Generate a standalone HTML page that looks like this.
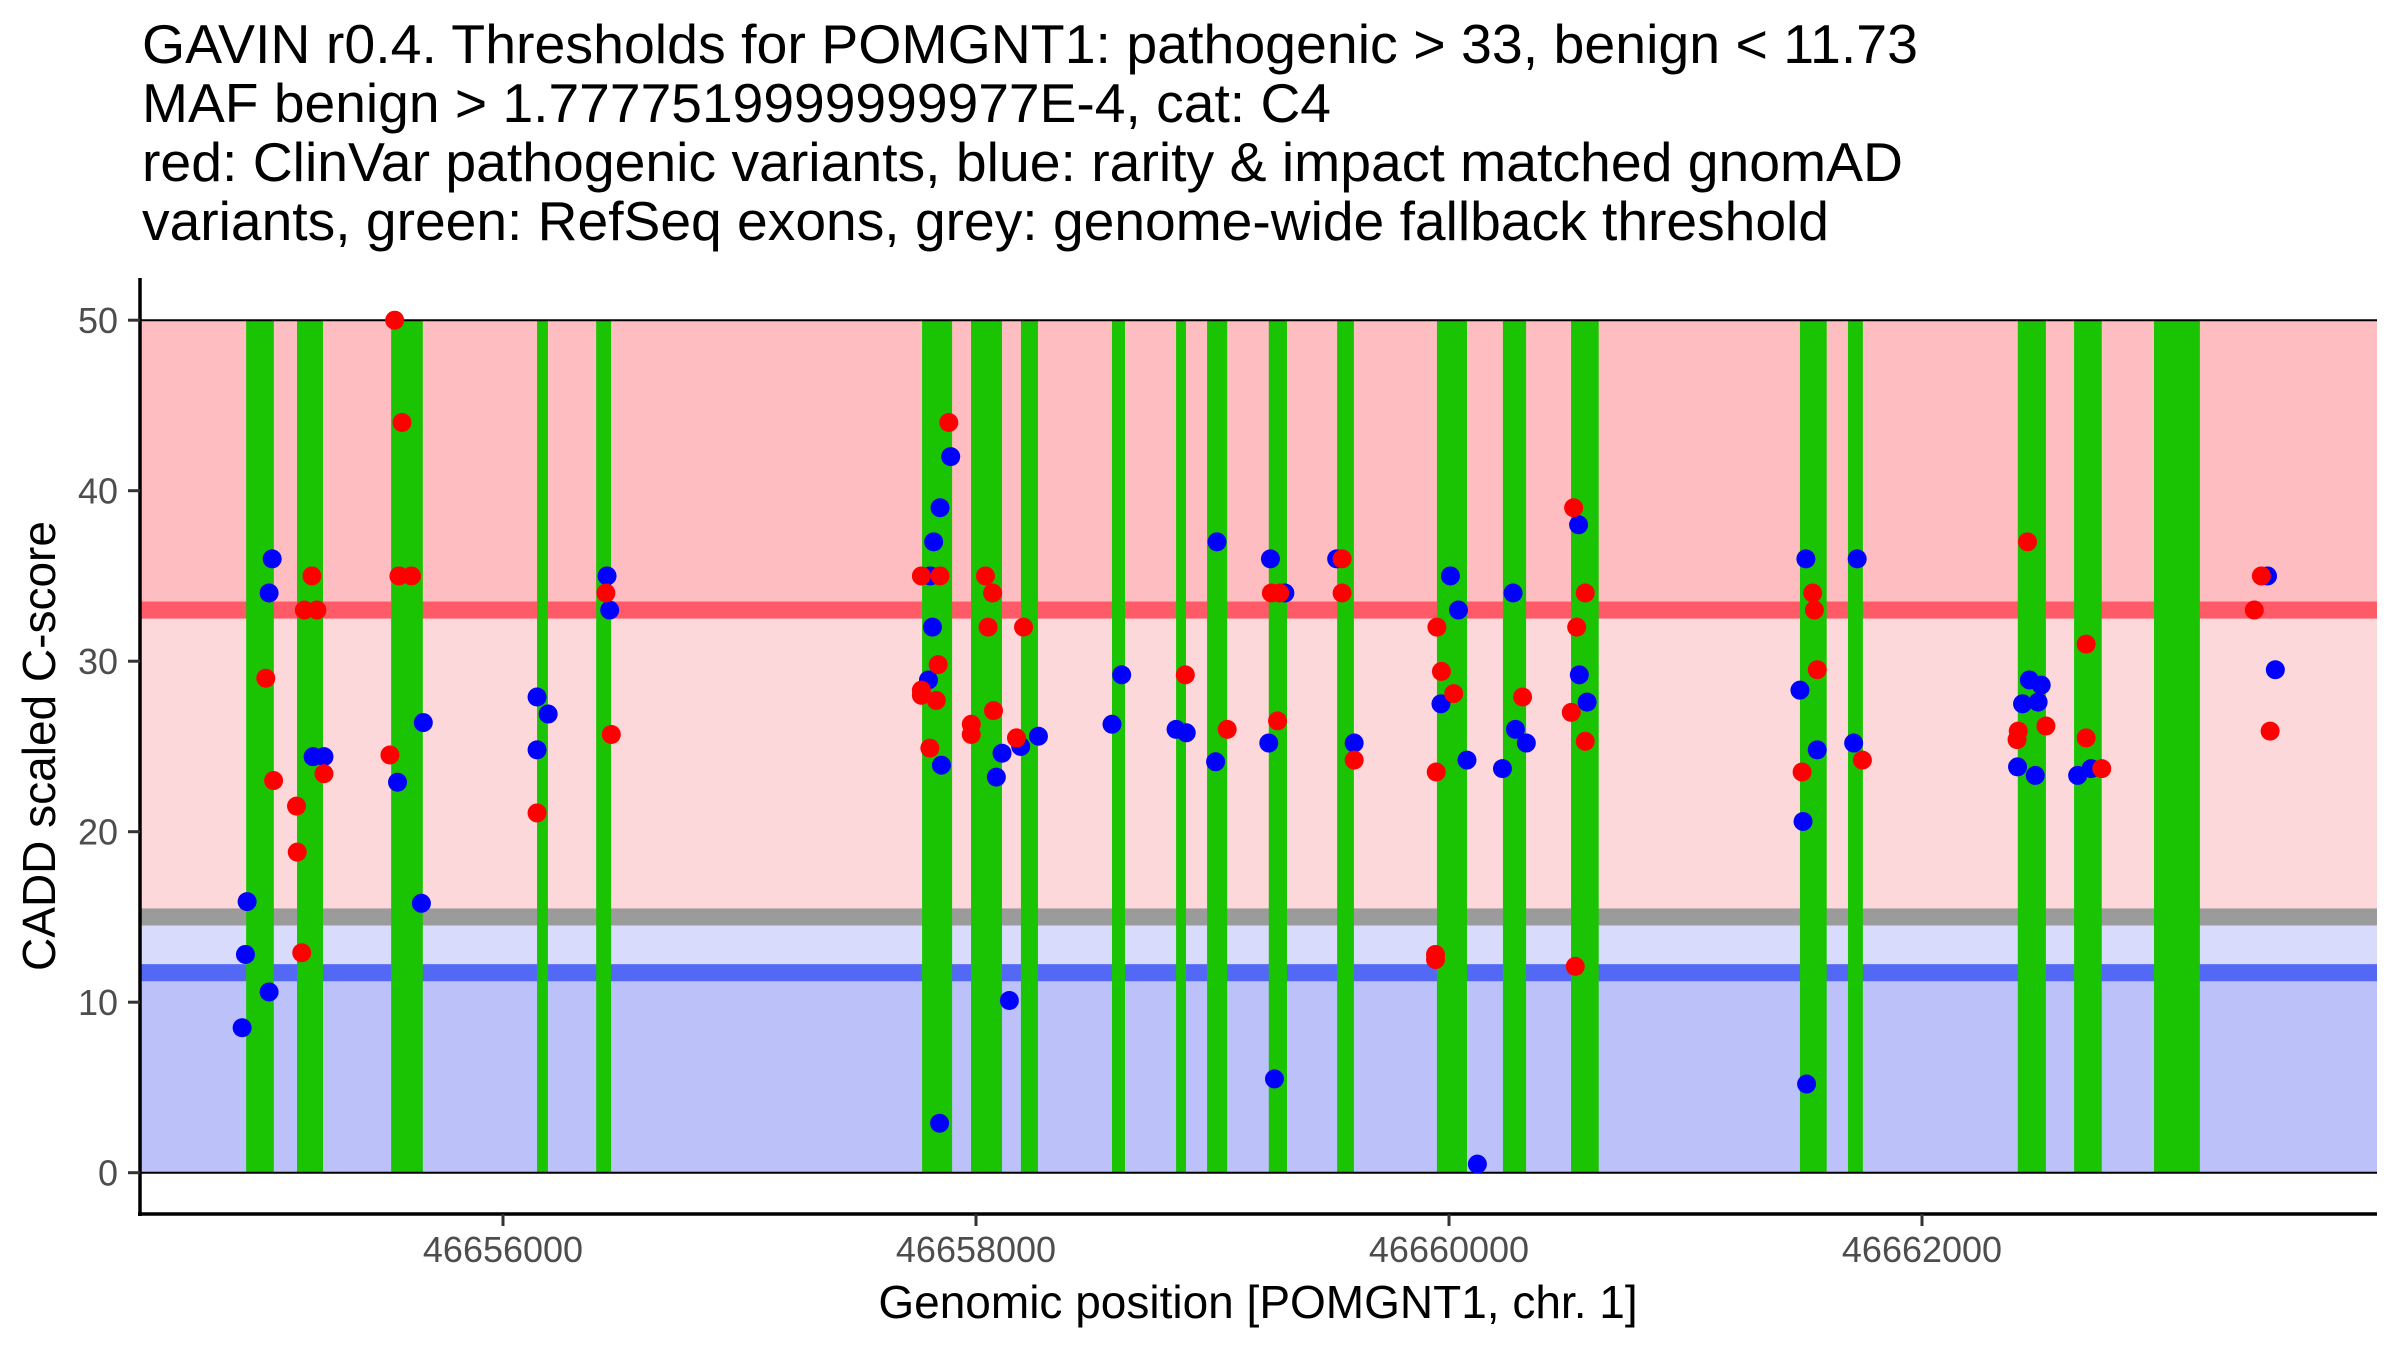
<!DOCTYPE html>
<html><head><meta charset="utf-8">
<style>
html,body{margin:0;padding:0;background:#fff;}
svg{display:block;font-family:"Liberation Sans",Arial,sans-serif;}
</style></head>
<body>
<svg id="chart" width="2400" height="1350" viewBox="0 0 2400 1350" xmlns="http://www.w3.org/2000/svg">
  <g font-size="55" fill="#000">
    <text x="142" y="63" textLength="1776" lengthAdjust="spacingAndGlyphs">GAVIN r0.4. Thresholds for POMGNT1: pathogenic &gt; 33, benign &lt; 11.73</text>
    <text x="142" y="122" textLength="1189" lengthAdjust="spacingAndGlyphs">MAF benign &gt; 1.7777519999999977E-4, cat: C4</text>
    <text x="142" y="181" textLength="1761" lengthAdjust="spacingAndGlyphs">red: ClinVar pathogenic variants, blue: rarity &amp; impact matched gnomAD</text>
    <text x="142" y="240" textLength="1687" lengthAdjust="spacingAndGlyphs">variants, green: RefSeq exons, grey: genome-wide fallback threshold</text>
  </g>
  <g id="bands"></g>
  <g id="exons"></g>
  <g id="frame"></g>
  <g id="pointsB"></g>
  <g id="pointsR"></g>
  <g id="axes"></g>
  <text x="1258" y="1318" text-anchor="middle" font-size="46" fill="#000">Genomic position [POMGNT1, chr. 1]</text>
  <text transform="translate(55,746) rotate(-90)" text-anchor="middle" font-size="46" fill="#000">CADD scaled C-score</text>
</svg>
<script>
const exonStarts = [4654914,4655129,4655527,4656144,4656394,4657772,4657979,4658190,4658575,4658846,4658977,4659238,4659527,4659949,4660228,4660516,4661484,4661687,4662405,4662643,4662981];
const exonEnds   = [4655031,4655239,4655661,4656190,4656457,4657899,4658110,4658262,4658630,4658888,4659062,4659315,4659598,4660076,4660326,4660633,4661597,4661750,4662524,4662760,4663175];

const bluePos = [4655024,4655011,4654918,4654911,4655011,4654897,4655197,4655243,4655554,4655663,4655655,4656144,4656191,4656144,4656440,4656451,
4657893,4657848,4657821,4657807,4657816,4657799,4657854,4657846,4658110,4658086,4658141,4658189,4658264,4658616,4658575,4658846,4658889,4659019,4659013,
4659245,4659306,4659238,4659262,4659525,4659599,4660006,4660040,4659966,4660076,4660120,4660271,4660281,4660327,4660226,4660548,4660551,4660584,4661509,4661484,4661497,4661512,4661557,4661726,4661711,
4662454,4662504,4662425,4662491,4662404,4662479,4662658,4662715,4663461,4663494];
const blueScore = [36,34,15.9,12.8,10.6,8.5,24.4,24.4,22.9,26.4,15.8,27.9,26.9,24.8,35,33,
42,39,37,35,32,28.9,23.9,2.9,24.6,23.2,10.1,25.0,25.6,29.2,26.3,26.0,25.8,37,24.1,
36,34,25.2,5.5,36,25.2,35,33,27.5,24.2,0.5,34,26.0,25.2,23.7,38,29.2,27.6,36,28.3,20.6,5.2,24.8,36,25.2,
28.9,28.6,27.5,27.6,23.8,23.3,23.3,23.7,35,29.5];

const redPos = [4654997,4655030,4655192,4655160,4655213,4655243,4655127,4655130,4655149,4655542,4655573,4655560,4655613,4655522,4656144,4656435,4656458,
4657885,4657769,4657848,4657840,4657769,4657769,4657832,4657805,4658040,4658070,4658051,4658074,4657980,4657980,4658201,4658171,4658885,4659062,
4659249,4659284,4659275,4659548,4659548,4659599,4659949,4659968,4660020,4659946,4659943,4659943,4660311,4660527,4660576,4660540,4660517,4660576,4660534,4661538,4661545,4661557,4661493,4661748,
4662446,4662524,4662407,4662402,4662694,4662694,4662760,4663435,4663405,4663472];
const redScore = [29,23,35,33,33,23.4,21.5,18.8,12.9,50,44,35,35,24.5,21.1,34,25.7,
44,35,35,29.8,28.3,28.0,27.7,24.9,35,34,32,27.1,26.3,25.7,32,25.5,29.2,26.0,
34,34,26.5,36,34,24.2,32,29.4,28.1,23.5,12.5,12.8,27.9,39,34,32,27.0,25.3,12.1,34,33,29.5,23.5,24.2,
37,26.2,25.9,25.4,31,25.5,23.7,35,33,25.9];

const xTicks = [4656000,4658000,4660000,4662000];
const xTickLabels = ["46656000","46658000","46660000","46662000"];
const yTicks = [0,10,20,30,40,50];
const yTickLabels = ["0","10","20","30","40","50"];

const pathogenicThreshold = 33;
const fallbackThreshold = 15;
const benignThreshold = 11.73;
const yMax = 50;

const NS = "http://www.w3.org/2000/svg";
const PL = 140, PR = 2377;
function xs(g){ return 503 + (g - 4656000) * 0.2365; }
function ys(v){ return 1172.7 - v * 17.05; }
function mk(tag, attrs, parent){
  const e = document.createElementNS(NS, tag);
  for (const k in attrs) e.setAttribute(k, attrs[k]);
  parent.appendChild(e);
  return e;
}
function band(parent, v1, v2, color){
  return mk('rect', {x:PL, y:ys(v2), width:PR-PL, height:ys(v1)-ys(v2), fill:color}, parent);
}

const bands = document.getElementById('bands');
let b;
b = band(bands, pathogenicThreshold, yMax, '#fdbdc1');


b = band(bands, fallbackThreshold, pathogenicThreshold, '#fdd8db');


b = band(bands, benignThreshold, fallbackThreshold, '#d8dbfb');


b = band(bands, 0, benignThreshold, '#bcc1f9');


b = band(bands, pathogenicThreshold - 0.5, pathogenicThreshold + 0.5, '#fe5a67');


b = band(bands, fallbackThreshold - 0.5, fallbackThreshold + 0.5, '#9b9b9b');


b = band(bands, benignThreshold - 0.5, benignThreshold + 0.5, '#5368f4');



const exG = document.getElementById('exons');
for (let i = 0; i < exonStarts.length; i++){
  const r = mk('rect', {x:xs(exonStarts[i]), y:ys(yMax), width:xs(exonEnds[i])-xs(exonStarts[i]), height:ys(0)-ys(yMax), fill:'#1bc402'}, exG);
  
  
}

const fr = document.getElementById('frame');
let ln = mk('line', {x1:PL, x2:PR, y1:ys(yMax), y2:ys(yMax), stroke:'#000', 'stroke-width':2}, fr);


ln = mk('line', {x1:PL, x2:PR, y1:ys(0), y2:ys(0), stroke:'#000', 'stroke-width':2}, fr);



const pB = document.getElementById('pointsB');
for (let i = 0; i < bluePos.length; i++){
  const c = mk('circle', {cx:xs(bluePos[i]), cy:ys(blueScore[i]), r:9.5, fill:'#0000ff'}, pB);
  
  
}
const pR = document.getElementById('pointsR');
for (let i = 0; i < redPos.length; i++){
  const c = mk('circle', {cx:xs(redPos[i]), cy:ys(redScore[i]), r:9.5, fill:'#ff0000'}, pR);
  
  
}

const ax = document.getElementById('axes');
let a = mk('line', {x1:140, x2:140, y1:278, y2:1216, stroke:'#000', 'stroke-width':3.5}, ax);


a = mk('line', {x1:138, x2:PR, y1:1214, y2:1214, stroke:'#000', 'stroke-width':3.5}, ax);


for (let i = 0; i < yTicks.length; i++){
  const y = ys(yTicks[i]);
  const t = mk('line', {x1:128, x2:140, y1:y, y2:y, stroke:'#333', 'stroke-width':3}, ax);
  
  
  const l = mk('text', {x:118, y:y+13, 'text-anchor':'end', 'font-size':36, fill:'#4d4d4d'}, ax);
  l.textContent = yTickLabels[i];
  
  
}
for (let i = 0; i < xTicks.length; i++){
  const x = xs(xTicks[i]);
  const t = mk('line', {x1:x, x2:x, y1:1214, y2:1226, stroke:'#333', 'stroke-width':3}, ax);
  
  
  const l = mk('text', {x:x, y:1262, 'text-anchor':'middle', 'font-size':36, fill:'#4d4d4d'}, ax);
  l.textContent = xTickLabels[i];
  
  
}
</script>
</body></html>
